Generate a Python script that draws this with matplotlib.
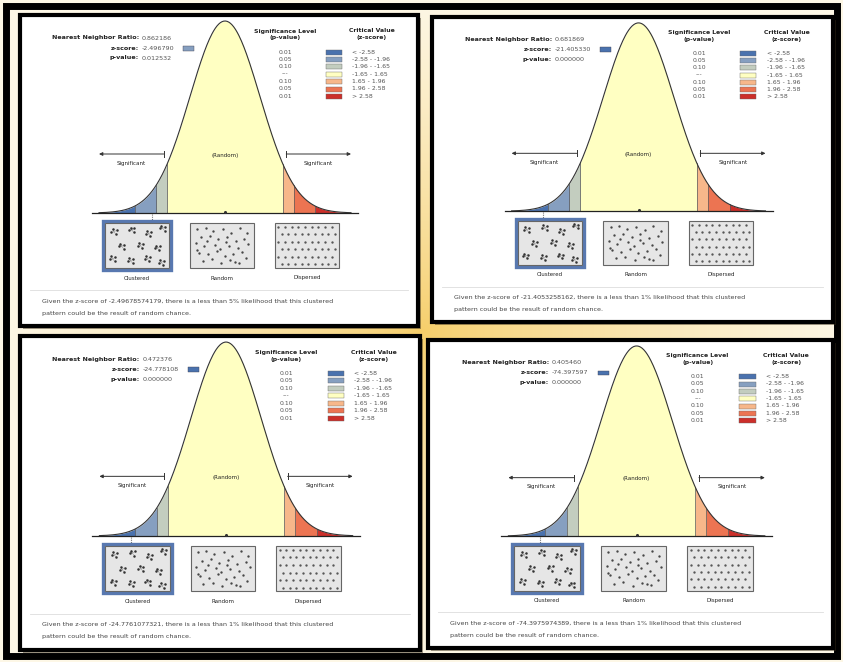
import numpy as np
import matplotlib.pyplot as plt
from matplotlib.patches import Rectangle

# ---- report values -------------------------------------------------------
RATIOS = ["0.862186", "0.681869", "0.472376", "0.405460"]
Z_SCORES = ["-2.496790", "-21.405330", "-24.778108", "-74.397597"]
P_VALUES = ["0.012532", "0.000000", "0.000000", "0.000000"]
Z_FULL = ["-2.49678574179", "-21.4053258162", "-24.7761077321", "-74.3975974389"]
LIKELIHOOD = ["5%", "1%", "1%", "1%"]
MARKER_Z = [-2.1, -2.7, -2.7, -2.7]   # where the dotted pointer leaves the curve
Z_BIN = [1, 0, 0, 0]                  # colour bin of the z-score swatch

LEGEND_P = ["0.01", "0.05", "0.10", "---", "0.10", "0.05", "0.01"]
LEGEND_Z = ["< -2.58", "-2.58 - -1.96", "-1.96 - -1.65", "-1.65 - 1.65",
            "1.65 - 1.96", "1.96 - 2.58", "> 2.58"]
BREAKS = [-3.6, -2.58, -1.96, -1.65, 1.65, 1.96, 2.58, 3.6]
BIN_COLORS = ["#4A72AE", "#869FC0", "#C3CDBF", "#FFFFC2",
              "#F7B78A", "#EC7452", "#CC2F2A"]

PATTERNS = ["Clustered", "Random", "Dispersed"]

# icon textures (unit box coordinates)
CLUSTER_CENTERS = [(0.14, 0.20), (0.42, 0.16), (0.68, 0.24), (0.90, 0.12),
                   (0.26, 0.52), (0.55, 0.50), (0.82, 0.56), (0.12, 0.80),
                   (0.40, 0.84), (0.66, 0.80), (0.88, 0.88)]
CLUSTER_OFFSETS = [(-0.04, 0.00), (0.03, 0.05), (0.04, -0.04), (-0.02, -0.06)]
RANDOM_X = [0.08, 0.22, 0.35, 0.51, 0.66, 0.80, 0.93, 0.14, 0.29, 0.44, 0.58, 0.73,
            0.88, 0.05, 0.19, 0.38, 0.47, 0.62, 0.77, 0.95, 0.11, 0.26, 0.41, 0.55,
            0.69, 0.84, 0.17, 0.33, 0.49, 0.64, 0.79, 0.91, 0.07, 0.24, 0.57, 0.72]
RANDOM_Y = [0.10, 0.06, 0.15, 0.09, 0.18, 0.07, 0.20, 0.30, 0.26, 0.35, 0.28, 0.38,
            0.33, 0.45, 0.52, 0.48, 0.58, 0.50, 0.56, 0.47, 0.68, 0.72, 0.64, 0.75,
            0.70, 0.66, 0.88, 0.84, 0.93, 0.86, 0.92, 0.80, 0.62, 0.40, 0.42, 0.90]

# panel frames in pixels: left, top, right, bottom
PANELS = [(20, 15, 418, 326), (432, 17, 833, 322),
          (20, 336, 420, 650), (428, 340, 833, 648)]

W, H = 843, 662
TXT = "#222222"
GREY = "#555555"

plt.rcParams["font.family"] = "DejaVu Sans"

fig = plt.figure(figsize=(W / 100, H / 100), dpi=100)
ax = fig.add_axes([0, 0, 1, 1])
ax.set_xlim(0, W)
ax.set_ylim(H, 0)
ax.axis("off")

# warm glow behind the panels
yy, xx = np.mgrid[0:H, 0:W]
d = np.sqrt(((xx - W / 2) / (W * 0.5)) ** 2 + ((yy - H / 2) / (H * 0.5)) ** 2)
d = np.clip(d, 0, 1)[..., None] ** 0.8
c_in = np.array([246, 206, 105]) / 255
c_out = np.array([253, 247, 230]) / 255
ax.imshow(c_in * (1 - d) + c_out * d, extent=(0, W, H, 0), zorder=0)
ax.add_patch(Rectangle((6, 6), W - 12, H - 12, fill=False, ec="black", lw=5, zorder=1))


def draw_panel(i):
    x0, y0, x1, y1 = PANELS[i]
    sx = (x1 - x0) / 398
    sy = (y1 - y0) / 311

    def P(x, y):
        return x0 + x * sx, y0 + y * sy

    # shadow + white card + thick frame
    ax.add_patch(Rectangle((x0 + 3, y0 + 3), x1 - x0, y1 - y0, fc="#3a2e1a", ec="none",
                           alpha=0.45, zorder=1))
    ax.add_patch(Rectangle((x0, y0), x1 - x0, y1 - y0, fc="white", ec="black", lw=3, zorder=2))

    # header
    labels = ["Nearest Neighbor Ratio:", "z-score:", "p-value:"]
    values = [RATIOS[i], Z_SCORES[i], P_VALUES[i]]
    for k, (lab, val) in enumerate(zip(labels, values)):
        lx, ly = P(119, 23 + k * 10)
        ax.text(lx, ly, lab, ha="right", va="center", fontsize=4.6, weight="bold",
                color=TXT, zorder=5)
        ax.text(lx + 3, ly, val, ha="left", va="center", fontsize=4.6, color=GREY, zorder=5)
    bx, by = P(122 + 4.2 * len(Z_SCORES[i]) + 3, 33)
    ax.add_patch(Rectangle((bx, by - 2), 11 * sx, 4.5, fc=BIN_COLORS[Z_BIN[i]],
                           ec="#445", lw=0.3, zorder=5))

    # legend
    cx, cy = P(265, 16)
    ax.text(cx, cy, "Significance Level", ha="center", va="center", fontsize=4.4,
            weight="bold", color=TXT, zorder=5)
    ax.text(cx, cy + 7 * sy, "(p-value)", ha="center", va="center", fontsize=4.4,
            weight="bold", color=TXT, zorder=5)
    cx, cy = P(352, 16)
    ax.text(cx, cy, "Critical Value", ha="center", va="center", fontsize=4.4,
            weight="bold", color=TXT, zorder=5)
    ax.text(cx, cy + 7 * sy, "(z-score)", ha="center", va="center", fontsize=4.4,
            weight="bold", color=TXT, zorder=5)
    for k in range(7):
        px, py = P(265, 37 + k * 7.4)
        ax.text(px, py, LEGEND_P[k], ha="center", va="center", fontsize=4.4, color=GREY, zorder=5)
        sx0, _ = P(306, 0)
        ax.add_patch(Rectangle((sx0, py - 2.4), 16 * sx, 5, fc=BIN_COLORS[k], ec="#666",
                               lw=0.3, zorder=5))
        zx, _ = P(332, 0)
        ax.text(zx, py, LEGEND_Z[k], ha="left", va="center", fontsize=4.4, color=GREY, zorder=5)

    # bell curve
    ccx, base = P(205, 198)
    sig = 35 * sx
    peak = 192 * sy
    for k in range(7):
        z = np.linspace(BREAKS[k], BREAKS[k + 1], 60)
        ax.fill_between(ccx + z * sig, base, base - peak * np.exp(-z ** 2 / 2),
                        color=BIN_COLORS[k], lw=0, zorder=3)
        if 0 < k:
            zb = BREAKS[k]
            ax.plot([ccx + zb * sig] * 2, [base, base - peak * np.exp(-zb ** 2 / 2)],
                    color="#555", lw=0.5, zorder=4)
    z = np.linspace(-3.6, 3.6, 300)
    ax.plot(ccx + z * sig, base - peak * np.exp(-z ** 2 / 2), color="#333", lw=0.8, zorder=4)
    ax.plot([ccx - 3.8 * sig, ccx + 3.8 * sig], [base, base], color="#222", lw=0.9, zorder=4)
    ax.plot([ccx], [base - 1], marker="o", ms=1.2, color="#333", zorder=4)

    # significance arrows
    ay = base - 59 * sy
    for side in (-1, 1):
        a0 = ccx + side * 1.75 * sig
        a1 = ccx + side * 3.6 * sig
        ax.annotate("", xy=(a1, ay), xytext=(a0, ay), zorder=4,
                    arrowprops=dict(arrowstyle="-|>", lw=0.7, color="#333",
                                    mutation_scale=5, shrinkA=0, shrinkB=0))
        ax.plot([a0, a0], [ay - 3, ay + 3], color="#333", lw=0.7, zorder=4)
        ax.text((a0 + a1) / 2, ay + 9 * sy, "Significant", ha="center", va="center",
                fontsize=4, color=TXT, zorder=5)
    ax.text(ccx, ay + 1, "(Random)", ha="center", va="center", fontsize=4, color=TXT, zorder=5)

    # dotted pointer to the pattern box
    mx = ccx + MARKER_Z[i] * sig
    _, top_box = P(0, 208)
    ax.plot([mx, mx], [base + 1, top_box - 1], color="#777", lw=0.8, ls=(0, (1, 1)), zorder=4)

    # pattern boxes
    for j, name in enumerate(PATTERNS):
        bx0, by0 = P(85 + j * 85, 208)
        bw, bh = 64 * sx, 45 * sy
        if j == 0:
            ax.add_patch(Rectangle((bx0 - 2, by0 - 2), bw + 4, bh + 4, fc="none",
                                   ec="#5878B0", lw=2.4, zorder=4))
        ax.add_patch(Rectangle((bx0, by0), bw, bh, fc="#E6E6E6", ec="#666", lw=0.8, zorder=4))
        if j == 0:
            for (ux, uy) in CLUSTER_CENTERS:
                for (ox, oy) in CLUSTER_OFFSETS:
                    px, py = bx0 + (ux + ox) * bw, by0 + (uy + oy) * bh
                    ax.plot([bx0 + ux * bw, px], [by0 + uy * bh, py], color="#888",
                            lw=0.3, zorder=5)
                    ax.plot(px, py, "o", ms=0.8, color="#333", zorder=5)
        elif j == 1:
            ax.plot(bx0 + np.array(RANDOM_X) * bw * 0.92 + bw * 0.04,
                    by0 + np.array(RANDOM_Y) * bh * 0.9 + bh * 0.05,
                    "o", ms=0.7, color="#444", ls="none", zorder=5)
        else:
            gx, gy = [], []
            for r in range(6):
                for c in range(9):
                    gx.append((c + 0.5 + 0.5 * (r % 2)) / 9.6)
                    gy.append((r + 0.5) / 6)
            ax.plot(bx0 + np.array(gx) * bw, by0 + np.array(gy) * bh, "o", ms=0.7,
                    color="#555", ls="none", zorder=5)
        lx, ly = P(85 + j * 85 + 32, 263)
        ax.text(lx, ly, name, ha="center", va="center", fontsize=4, color=TXT, zorder=5)

    # separator + conclusion
    sx0, sy0 = P(10, 275)
    sx1, _ = P(388, 275)
    ax.plot([sx0, sx1], [sy0, sy0], color="#DDDDDD", lw=0.6, zorder=4)
    tx, ty = P(22, 286)
    ax.text(tx, ty, f"Given the z-score of {Z_FULL[i]}, there is a less than "
            f"{LIKELIHOOD[i]} likelihood that this clustered", ha="left", va="center",
            fontsize=4.6, color="#444", zorder=5)
    ax.text(tx, ty + 12 * sy, "pattern could be the result of random chance.", ha="left",
            va="center", fontsize=4.6, color="#444", zorder=5)


for i in range(4):
    draw_panel(i)

fig.savefig("out.png", dpi=100)
